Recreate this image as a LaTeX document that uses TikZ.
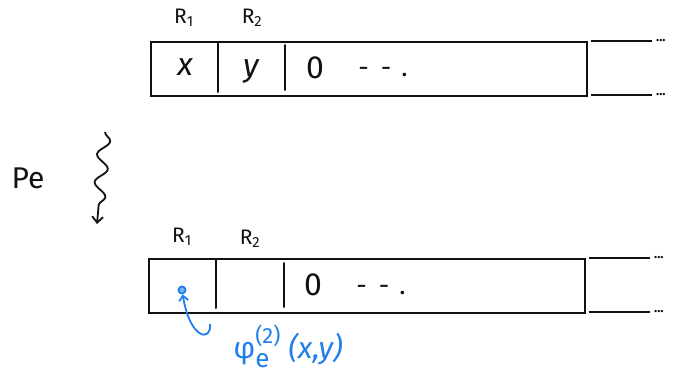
\documentclass[tikz,border=0pt]{standalone}
\usepackage{fontspec}
\setmainfont{Fira Sans}
\setsansfont{Fira Sans}
\usepackage{tikz}
\usepackage{xcolor}
\usetikzlibrary{arrows.meta, decorations.pathmorphing, calc}
\definecolor{ink}{HTML}{111111}
\definecolor{pen}{HTML}{1E7FE8}
\newcommand{\subsup}[2]{\rlap{\raisebox{-9pt}{\fontsize{26}{26}\selectfont #1}}\raisebox{15pt}{\fontsize{22}{22}\selectfont #2}}
\newcommand{\trail}{-\hspace{12pt}-\hspace{10pt}.}
\tikzset{
  tape/.style = {rectangle, draw=ink, line width=2pt, anchor=north west,
    minimum width=436pt, minimum height=54pt, inner sep=0pt},
  cellText/.style = {text=ink, font=\fontsize{32}{34}\selectfont, inner sep=0pt},
  dashText/.style = {text=ink, font=\fontsize{26}{28}\selectfont, inner sep=0pt},
  regLabel/.style = {text=ink, font=\fontsize{21}{23}\selectfont, inner sep=0pt},
  moreDots/.style = {text=ink, font=\bfseries\fontsize{13}{14}\selectfont, inner sep=0pt},
  divider/.style = {draw=ink, line width=2pt, line cap=round},
  tail/.style = {draw=ink, line width=2pt},
  squiggle/.style = {draw=ink, line width=1.8pt, -{Straight Barb[length=6pt, width=11pt]},
    decorate, decoration={snake, amplitude=6pt, segment length=28pt, post length=10pt}},
  penArrow/.style = {draw=pen, line width=1.8pt, -{Straight Barb[length=5pt, width=9pt]}},
}

\begin{document}
\begin{tikzpicture}[x=1pt, y=-1pt]
\useasboundingbox (0,0) rectangle (686,389);

% first tape
\node[tape] (top) at (150,41) {};
\node[regLabel] (topR1) at (184,18) {R\textsubscript{1}};
\node[regLabel] (topR2) at (252,18) {R\textsubscript{2}};
\draw[divider] (218,43) -- (218,92);
\draw[divider] (285,45) -- (285,90);
\node[cellText] (topX) at (185,67) {\itshape x};
\node[cellText] (topY) at (251,71) {\itshape y};
\node[cellText] (topZero) at (315,68) {0};
\node[dashText] (topDots) at (383,72) {\trail};
\coordinate (topA) at (591,41);
\coordinate (topB) at (591,95);
\draw[tail] (topA) -- ++(61,0) coordinate (topA2);
\draw[tail] (topB) -- ++(61,0) coordinate (topB2);
\node[moreDots, right=4pt] (topDotsA) at (topA2) {...};
\node[moreDots, right=4pt] (topDotsB) at (topB2) {...};

% program P_e
\node[text=ink, font=\fontsize{30}{34}\selectfont, inner sep=0pt] (prog) at (28,178) {Pe};
\coordinate (sqStart) at (105,132);
\coordinate (sqEnd) at (97,224);
\draw[squiggle] (sqStart) -- (sqEnd);

% second tape
\node[tape] (bot) at (148,258) {};
\node[regLabel] (botR1) at (182,237) {R\textsubscript{1}};
\node[regLabel] (botR2) at (250,239) {R\textsubscript{2}};
\draw[divider] (216,260) -- (216,308);
\draw[divider] (284,263) -- (284,307);
\node[circle, draw=pen, fill=pen!60, line width=1.8pt, inner sep=2.5pt] (val) at (182,290) {};
\node[cellText] (botZero) at (313,285) {0};
\node[dashText] (botDots) at (381,290) {\trail};
\coordinate (botA) at (589,258);
\coordinate (botB) at (589,312);
\draw[tail] (botA) -- ++(61,0) coordinate (botA2);
\draw[tail] (botB) -- ++(61,0) coordinate (botB2);
\node[moreDots, right=4pt] (botDotsA) at (botA2) {...};
\node[moreDots, right=4pt] (botDotsB) at (botB2) {...};

% result
\node[text=pen, font=\fontsize{30}{32}\selectfont, inner sep=0pt] (phi) at (288,346) {φ\subsup{e}{(2)}\ \itshape (x,y)};
\coordinate (phiTail) at (210,324);
\draw[penArrow] (phiTail) .. controls (212,342) and (190,340) .. (val);

\end{tikzpicture}
\end{document}
